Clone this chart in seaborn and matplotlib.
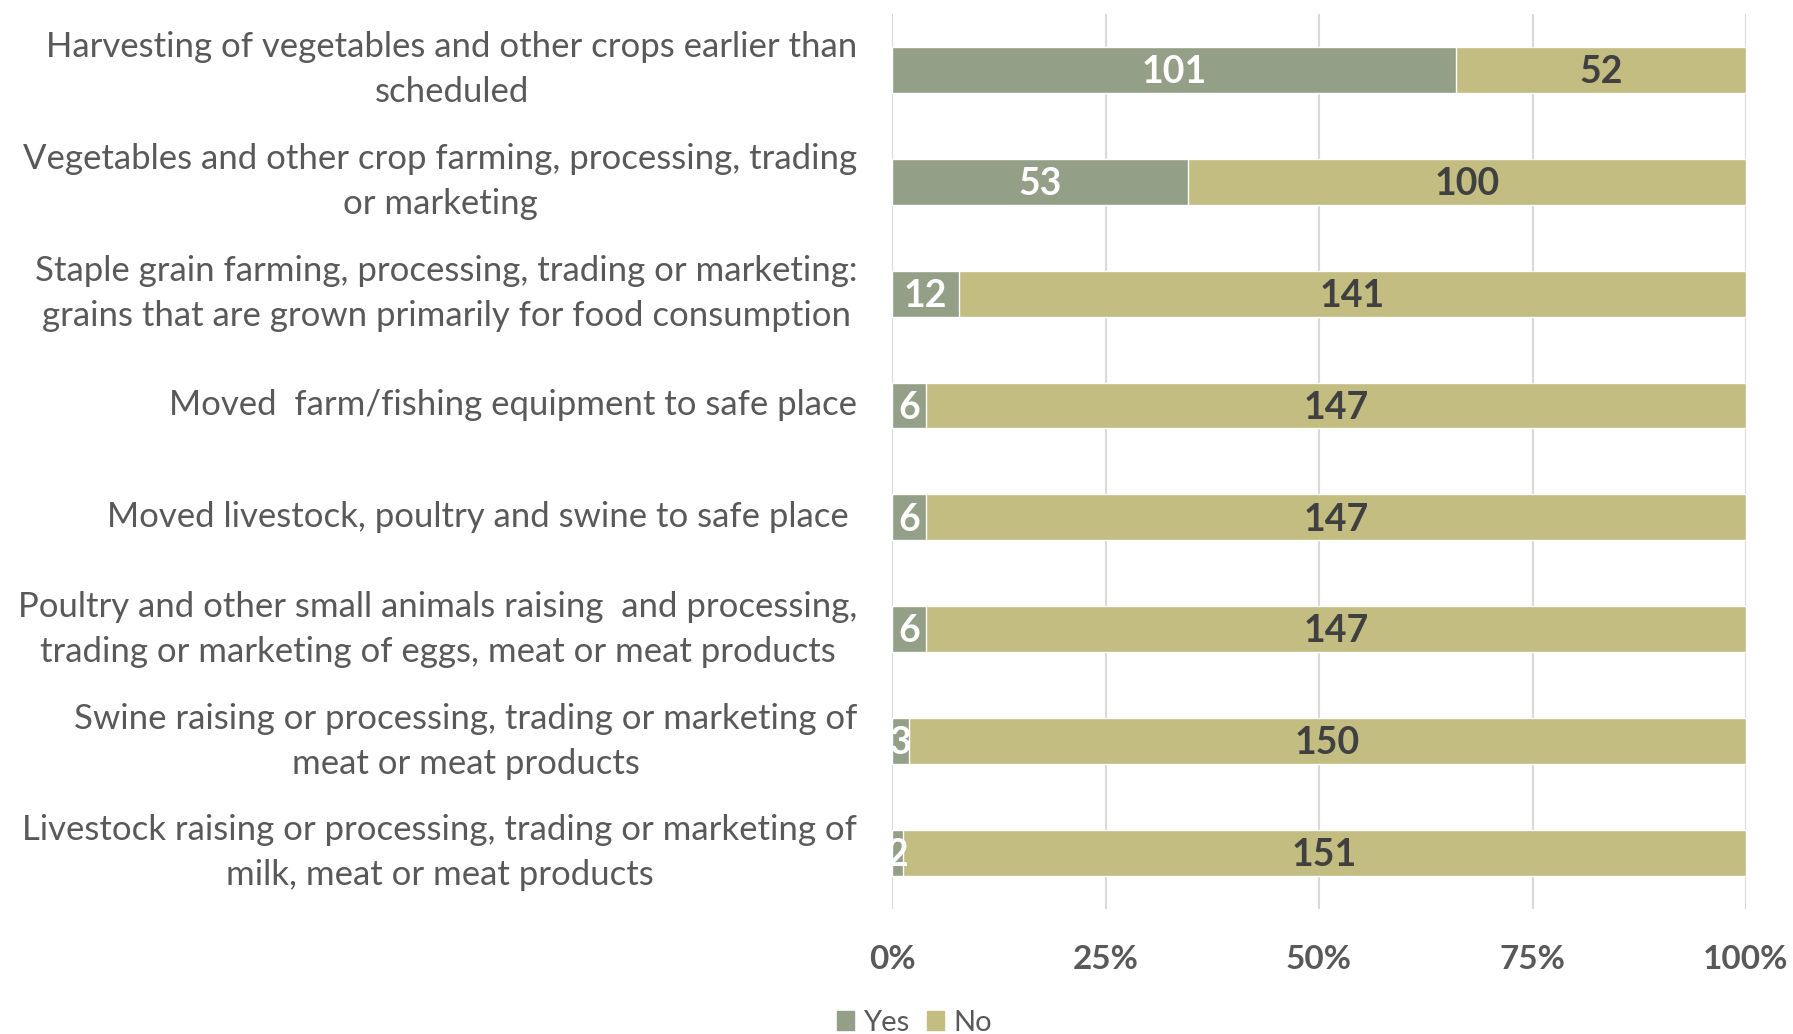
import matplotlib
matplotlib.use("Agg")
import matplotlib.pyplot as plt
import seaborn as sns
import pandas as pd
from matplotlib.patches import Patch

categories = [
    "Harvesting of vegetables and other crops earlier than\nscheduled",
    "Vegetables and other crop farming, processing, trading\nor marketing",
    "Staple grain farming, processing, trading or marketing:\ngrains that are grown primarily for food consumption",
    "Moved  farm/fishing equipment to safe place",
    "Moved livestock, poultry and swine to safe place ",
    "Poultry and other small animals raising  and processing,\ntrading or marketing of eggs, meat or meat products",
    "Swine raising or processing, trading or marketing of\nmeat or meat products",
    "Livestock raising or processing, trading or marketing of\nmilk, meat or meat products",
]
yes_counts = [101, 53, 12, 6, 6, 6, 3, 2]
no_counts = [52, 100, 141, 147, 147, 147, 150, 151]
tick_labels = ["0%", "25%", "50%", "75%", "100%"]

YES_COL = "#939f86"
NO_COL = "#c3bd82"
GREY = "#595959"

df = pd.DataFrame({"cat": categories, "yes": yes_counts, "no": no_counts})
df["total"] = df["yes"] + df["no"]
df["yes_pct"] = df["yes"] / df["total"] * 100
df["full"] = 100.0

sns.set_style("white")
plt.rcParams["font.family"] = ["Lato", "DejaVu Sans"]

fig = plt.figure(figsize=(17.93, 10.34), dpi=100)
ax = fig.add_axes([0.4975, 0.121, 0.4763, 0.8655])

sns.barplot(data=df, x="full", y="cat", color=NO_COL, width=0.41, saturation=1, ax=ax, zorder=2)
sns.barplot(data=df, x="yes_pct", y="cat", color=YES_COL, width=0.41, saturation=1, ax=ax, zorder=3)

# value labels centred in each segment
for i, row in df.iterrows():
    ax.text(row["yes_pct"] / 2, i + 0.02, str(row["yes"]), ha="center", va="center",
            color="white", fontsize=27, fontweight="bold", zorder=4)
    ax.text(row["yes_pct"] + (100 - row["yes_pct"]) / 2, i + 0.02, str(row["no"]),
            ha="center", va="center", color="#404040", fontsize=27,
            fontweight="bold", zorder=4)

ax.set_xlim(0, 100)
ax.set_ylim(7.5, -0.5)
ax.set_xticks([0, 25, 50, 75, 100])
ax.set_xticklabels(tick_labels, fontsize=24, fontweight="bold", color=GREY)
ax.tick_params(axis="x", length=0, pad=26)
ax.tick_params(axis="y", length=0, pad=25)
for lab in ax.get_yticklabels():
    lab.set_fontsize(25)
    lab.set_color(GREY)
    lab.set_multialignment("center")
    lab.set_linespacing(1.5)
    lab.set_verticalalignment("center")
ax.set_xlabel("")
ax.set_ylabel("")
ax.grid(axis="x", color="#d9d9d9", linewidth=1.5, zorder=0)
ax.set_axisbelow(True)
for s in ax.spines.values():
    s.set_visible(False)

handles = [Patch(color=YES_COL, label="Yes"), Patch(color=NO_COL, label="No")]
fig.legend(handles=handles, loc="center", bbox_to_anchor=(0.51, 0.011), ncol=2,
           frameon=False, fontsize=21, handlelength=0.6, handleheight=0.6,
           handletextpad=0.3, columnspacing=0.6, labelcolor=GREY)

fig.savefig("out.png", dpi=100)
